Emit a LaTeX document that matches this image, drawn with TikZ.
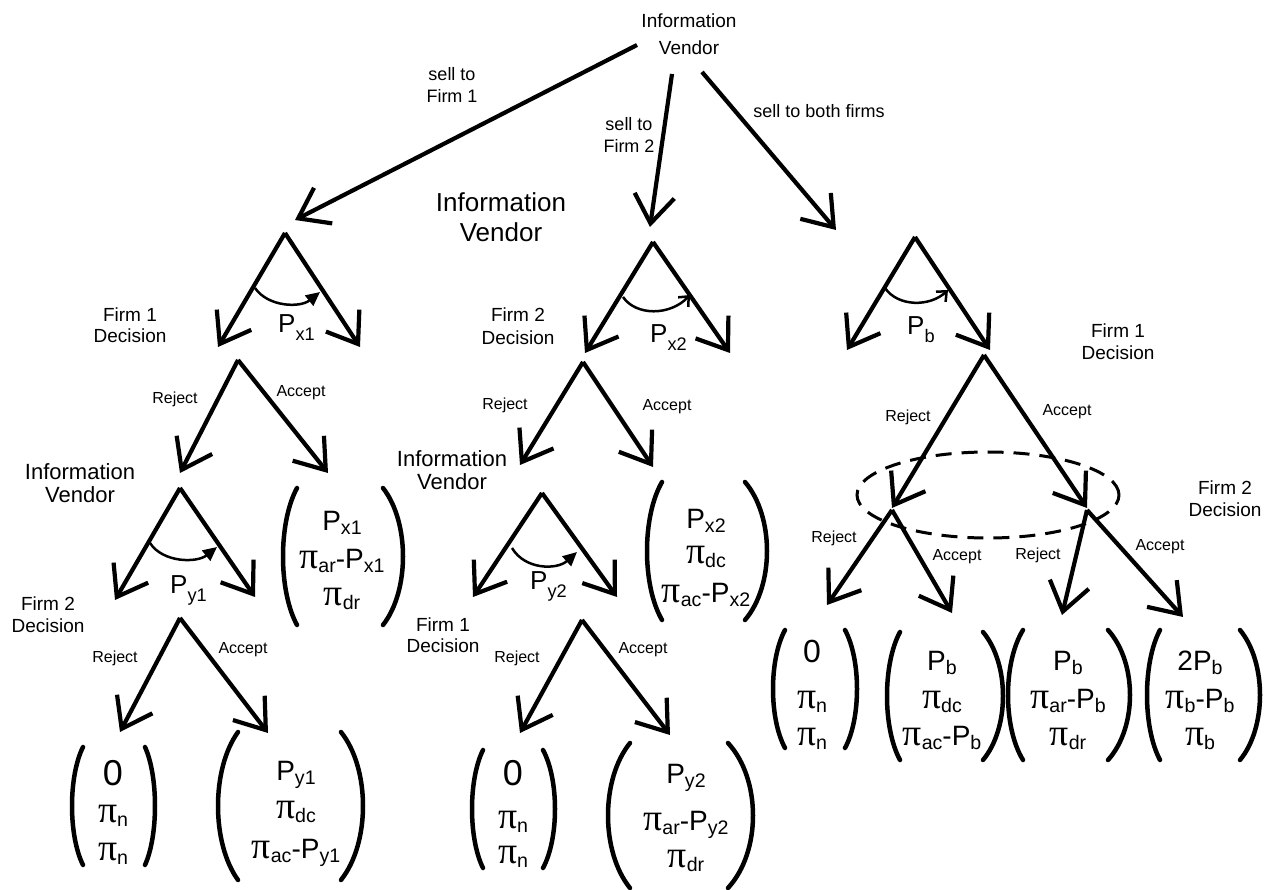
\documentclass[tikz,border=0pt]{standalone}
\usepackage{graphicx}
\usepackage{fontspec}
\setmainfont{Liberation Sans}
\newfontfamily\grkfont{Liberation Serif}
\usetikzlibrary{arrows.meta}
\newcommand{\mypi}{{\grkfont\scalebox{1.35}{π}}}
\newcommand{\msub}[2][4pt]{\raisebox{-#1}{\scalebox{0.7}{#2}}}
\newcommand{\myzero}{{\fontsize{36}{36}\selectfont 0}}
\newcommand{\myzeroR}{{\fontsize{32}{32}\selectfont 0}}
\newcommand{\mypay}[8]{%
  \node[pay] (#1a) at (#2,#3) {#6};
  \node[pay] (#1b) at (#2,#4) {#7};
  \node[pay] (#1c) at (#2,#5) {#8};}
\newcommand{\mypar}[6]{%
  \draw[par] ({#1+#2},#5) .. controls ({#1-#2/3},{#5+(#6-#5)/4}) and ({#1-#2/3},{#6-(#6-#5)/4}) .. ({#1+#2},#6);
  \draw[par] ({#3-#4},#5) .. controls ({#3+#4/3},{#5+(#6-#5)/4}) and ({#3+#4/3},{#6-(#6-#5)/4}) .. ({#3-#4},#6);}
\tikzset{
  ln/.style={line width=4.2pt, -{Straight Barb[length=28pt,width=40pt]}},
  par/.style={line width=4.5pt, line cap=round},
  pay/.style={font=\fontsize{28}{30}\selectfont, inner sep=0pt, anchor=base},
  lab/.style={font=\fontsize{19}{22}\selectfont, align=center, inner sep=0pt},
  ra/.style={font=\fontsize{16}{18}\selectfont, inner sep=0pt},
  sl/.style={font=\fontsize{18}{22}\selectfont, align=center, inner sep=0pt},
  iv/.style={font=\fontsize{22}{23}\selectfont, align=center, inner sep=0pt},
  pl/.style={font=\fontsize{26}{28}\selectfont, inner sep=0pt, anchor=base west},
  arcf/.style={line width=2.5pt, -{Triangle[length=14pt,width=13pt]}},
  arco/.style={line width=2.5pt, -{Straight Barb[length=8pt,width=14pt]}},
}
\begin{document}
\begin{tikzpicture}[x=1pt,y=-1pt]
\useasboundingbox (0,0) rectangle (1267,890);
% ---------- coordinates ----------
\coordinate (s1) at (637,45);  \coordinate (e1) at (295,220);
\coordinate (s2) at (672,74);  \coordinate (e2) at (650,227);
\coordinate (s3) at (702,72);  \coordinate (e3) at (836,230);
\coordinate (t1) at (285,233); \coordinate (t1l) at (218,347); \coordinate (t1r) at (360,347);
\coordinate (t1a) at (255,288); \coordinate (t1b) at (320,292);
\coordinate (t2) at (653,242); \coordinate (t2l) at (585,353); \coordinate (t2r) at (730,353);
\coordinate (t2a) at (623,297); \coordinate (t2b) at (690,295);
\coordinate (t3) at (915,237); \coordinate (t3l) at (847,350); \coordinate (t3r) at (990,350);
\coordinate (t3a) at (885,288); \coordinate (t3b) at (948,290);
\coordinate (d1) at (238,360); \coordinate (d1l) at (180,473); \coordinate (d1r) at (328,473);
\coordinate (t4) at (180,488); \coordinate (t4l) at (115,600); \coordinate (t4r) at (255,597);
\coordinate (t4a) at (150,543); \coordinate (t4b) at (217,547);
\coordinate (d2) at (180,618); \coordinate (d2l) at (120,732); \coordinate (d2r) at (268,733);
\coordinate (d3) at (583,362); \coordinate (d3l) at (520,465); \coordinate (d3r) at (653,467);
\coordinate (t5) at (542,493); \coordinate (t5l) at (473,597); \coordinate (t5r) at (617,597);
\coordinate (t5a) at (512,548); \coordinate (t5b) at (577,552);
\coordinate (d4) at (582,620); \coordinate (d4l) at (520,733); \coordinate (d4r) at (670,735);
\coordinate (d5) at (984,355); \coordinate (d5l) at (892,508); \coordinate (d5r) at (1087,508);
\coordinate (d6) at (892,510); \coordinate (d6l) at (827,605); \coordinate (d6r) at (952,613);
\coordinate (d7) at (1087,510); \coordinate (d7l) at (1062,615); \coordinate (d7r) at (1183,617);
% ---------- edges ----------
\draw[ln] (s1) -- (e1);
\draw[ln] (s2) -- (e2);
\draw[ln] (s3) -- (e3);
\foreach \n in {t1,t2,t3,d1,t4,d2,d3,t5,d4,d5,d6,d7}{
  \draw[ln] (\n) -- (\n l);
  \draw[ln] (\n) -- (\n r);
}
\draw[arcf] (t1a) .. controls (268,307) and (300,308) .. (t1b);
\draw[arco] (t2a) .. controls (636,316) and (670,316) .. (t2b);
\draw[arco] (t3a) .. controls (898,307) and (930,307) .. (t3b);
\draw[arcf] (t4a) .. controls (163,563) and (197,563) .. (t4b);
\draw[arcf] (t5a) .. controls (525,570) and (557,570) .. (t5b);
\draw[dash pattern=on 16pt off 10pt, line width=3pt] (988,495) ellipse [x radius=131pt, y radius=43pt];
% ---------- labels ----------
\node[lab, font=\fontsize{19}{27}\selectfont] (iv0) at (689,34.5) {Information\\Vendor};
\node[sl] (sell1) at (452,85) {sell to\\Firm 1};
\node[sl] (sell2) at (629,135) {sell to\\Firm 2};
\node[sl] (sell3) at (819,111.5) {sell to both firms};
\node[lab, font=\fontsize{26}{30}\selectfont] (iv1) at (501,217.5) {Information\\Vendor};
\node[lab, font=\fontsize{19}{21}\selectfont] (f1d) at (130,325.5) {Firm 1\\Decision};
\node[lab, font=\fontsize{19}{23}\selectfont] (f2d) at (518,326.5) {Firm 2\\Decision};
\node[lab] (f1dr) at (1118,342) {Firm 1\\Decision};
\node[lab] (f2dr) at (1225,499) {Firm 2\\Decision};
\node[lab] (f2dl) at (48,615) {Firm 2\\Decision};
\node[lab, font=\fontsize{19}{21}\selectfont] (f1dm) at (443,635) {Firm 1\\Decision};
\node[iv] (iv2) at (80,483.5) {Information\\Vendor};
\node[iv] (iv3) at (452,470.5) {Information\\Vendor};
% reject / accept
\node[ra] (r1) at (175,399) {Reject};  \node[ra] (a1) at (301,393) {Accept};
\node[ra] (r2) at (115,658) {Reject};  \node[ra] (a2) at (243,650) {Accept};
\node[ra] (r3) at (505,405) {Reject};  \node[ra] (a3) at (667,407) {Accept};
\node[ra] (r4) at (517,658) {Reject};  \node[ra] (a4) at (643,650) {Accept};
\node[ra] (r5) at (908,417) {Reject};  \node[ra] (a5) at (1067,412) {Accept};
\node[ra] (r6) at (834,538) {Reject};  \node[ra] (a6) at (957,557) {Accept};
\node[ra] (r7) at (1038,555) {Reject}; \node[ra] (a7) at (1160,547) {Accept};
% price labels
\node[pl] (px1) at (278,333) {P\msub[8pt]{x1}};
\node[pl] (px2) at (650,343) {P\msub[8pt]{x2}};
\node[pl] (pb) at (907,335) {P\msub[8pt]{b}};
\node[pl] (py1) at (170,593) {P\msub[8pt]{y1}};
\node[pl] (py2) at (530,589) {P\msub[8pt]{y2}};
% ---------- payoff vectors ----------
\mypay{vx1}{342}{530}{568}{605}{P\msub{x1}}{\mypi\msub{ar}-P\msub{x1}}{\mypi\msub{dr}}
\mypar{283}{14}{403}{20}{488}{625}
\mypay{vx2}{706}{528}{563}{602}{P\msub{x2}}{\mypi\msub{dc}}{\mypi\msub{ac}-P\msub{x2}}
\mypar{647}{15}{767}{22}{482}{620}
\mypay{vl1}{113}{785}{822}{860}{\myzero}{\mypi\msub{n}}{\mypi\msub{n}}
\mypar{72}{11}{155}{10}{747}{865}
\mypay{vl2}{296}{780}{818}{858}{P\msub{y1}}{\mypi\msub{dc}}{\mypi\msub{ac}-P\msub{y1}}
\mypar{218}{20}{363}{22}{732}{880}
\mypay{vm1}{513}{785}{828}{863}{\myzero}{\mypi\msub{n}}{\mypi\msub{n}}
\mypar{472}{11}{555}{12}{750}{868}
\mypay{vm2}{686}{783}{830}{867}{P\msub{y2}}{\mypi\msub{ar}-P\msub{y2}}{\mypi\msub{dr}}
\mypar{608}{22}{753}{25}{743}{888}
\mypay{vr1}{812}{662}{708}{745}{\myzeroR}{\mypi\msub{n}}{\mypi\msub{n}}
\mypar{773}{12}{857}{12}{630}{748}
\mypay{vr2}{942}{670}{708}{745}{P\msub{b}}{\mypi\msub{dc}}{\mypi\msub{ac}-P\msub{b}}
\mypar{887}{13}{1003}{20}{632}{760}
\mypay{vr3}{1068}{670}{708}{745}{P\msub{b}}{\mypi\msub{ar}-P\msub{b}}{\mypi\msub{dr}}
\mypar{1008}{15}{1130}{22}{630}{760}
\mypay{vr4}{1200}{670}{708}{745}{2P\msub{b}}{\mypi\msub{b}-P\msub{b}}{\mypi\msub{b}}
\mypar{1147}{13}{1260}{20}{630}{760}
\end{tikzpicture}
\end{document}
